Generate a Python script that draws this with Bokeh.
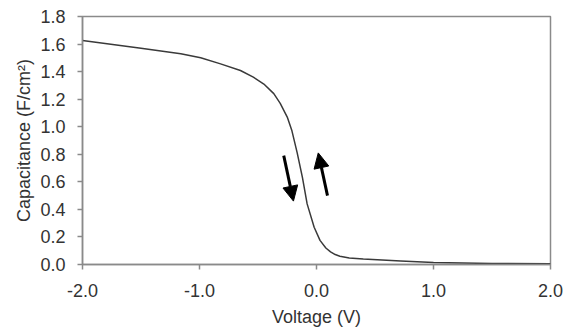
from bokeh.plotting import figure
from bokeh.models import Range1d, FixedTicker, NumeralTickFormatter, Arrow, NormalHead
from bokeh.embed import file_html
from bokeh.resources import INLINE

# Data
voltage = [-2.0, -1.5, -1.16, -0.99, -0.82, -0.65, -0.54, -0.45, -0.365, -0.31, -0.25, -0.21,
           -0.165, -0.12, -0.08, -0.02, 0.03, 0.08, 0.12, 0.16, 0.20, 0.28, 0.40, 0.72, 1.0, 1.5, 2.0]
capacitance = [1.625, 1.57, 1.53, 1.50, 1.456, 1.408, 1.36, 1.31, 1.24, 1.17, 1.07, 0.97,
               0.81, 0.63, 0.44, 0.27, 0.175, 0.12, 0.092, 0.072, 0.060, 0.048, 0.040, 0.025, 0.015, 0.008, 0.005]

x_ticks = [-2.0, -1.0, 0.0, 1.0, 2.0]
y_ticks = [0.0, 0.2, 0.4, 0.6, 0.8, 1.0, 1.2, 1.4, 1.6, 1.8]

# sweep-direction arrows (data coordinates): down sweep, up sweep
arrow_x_start = [-0.28, 0.094]
arrow_y_start = [0.79, 0.50]
arrow_x_end = [-0.197, 0.015]
arrow_y_end = [0.46, 0.81]

FONT = "Liberation Sans"
TXT = "#333333"
AX = "#8a8a8a"

p = figure(width=563, height=329, output_backend="svg", toolbar_location=None,
           x_range=Range1d(-2.0, 2.0), y_range=Range1d(0.0, 1.8),
           min_border_left=82, min_border_right=13, min_border_top=16, min_border_bottom=65)

p.line(voltage, capacitance, line_color="#3a3a3a", line_width=1.5, line_join="round")

for xs, ys, xe, ye in zip(arrow_x_start, arrow_y_start, arrow_x_end, arrow_y_end):
    p.add_layout(Arrow(end=NormalHead(size=15, fill_color="black", line_color="black"),
                       x_start=xs, y_start=ys, x_end=xe, y_end=ye,
                       line_color="black", line_width=3))

p.grid.visible = False
p.outline_line_color = AX
p.outline_line_width = 1.5
p.background_fill_color = "white"
p.border_fill_color = "white"

p.xaxis.ticker = FixedTicker(ticks=x_ticks)
p.yaxis.ticker = FixedTicker(ticks=y_ticks)
p.xaxis.formatter = NumeralTickFormatter(format="0.0")
p.yaxis.formatter = NumeralTickFormatter(format="0.0")

for ax in (p.xaxis[0], p.yaxis[0]):
    ax.axis_line_color = AX
    ax.axis_line_width = 1.5
    ax.major_tick_line_color = AX
    ax.major_tick_line_width = 1.5
    ax.major_tick_in = 0
    ax.major_tick_out = 5
    ax.minor_tick_line_color = None
    ax.major_label_text_font = FONT
    ax.major_label_text_font_size = "18px"
    ax.major_label_text_color = TXT
    ax.axis_label_text_font = FONT
    ax.axis_label_text_font_size = "18px"
    ax.axis_label_text_font_style = "normal"
    ax.axis_label_text_color = TXT

p.xaxis.axis_label = "Voltage (V)"
p.yaxis.axis_label = "Capacitance (F/cm²)"
p.xaxis.major_label_standoff = 14
p.xaxis.axis_label_standoff = 7
p.yaxis.major_label_standoff = 12
p.yaxis.axis_label_standoff = 3

open("out.html", "w").write(file_html(p, INLINE))
